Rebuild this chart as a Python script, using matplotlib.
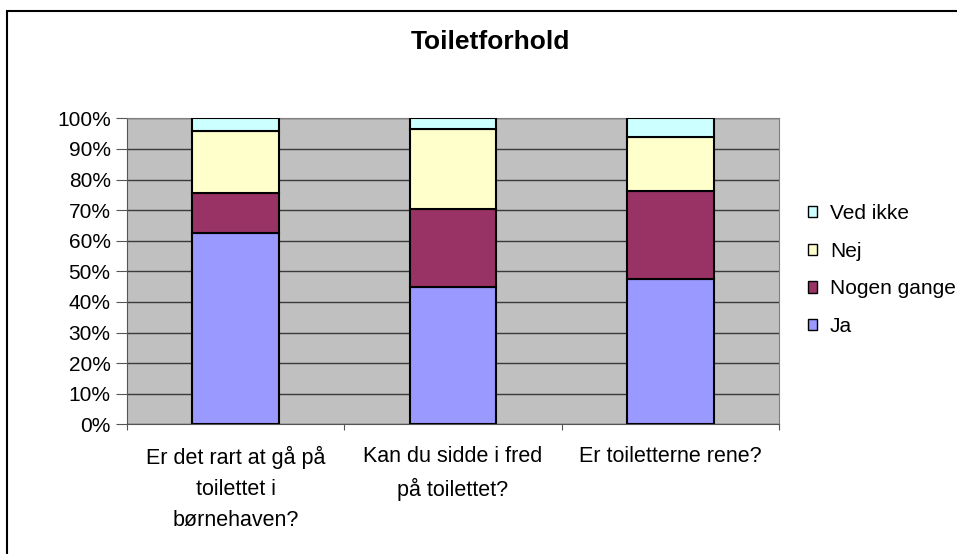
import numpy as np
import matplotlib.pyplot as plt
from matplotlib.patches import Rectangle, Patch

plt.rcParams['font.family'] = ['Liberation Sans', 'DejaVu Sans']

# data (percent)
categories = ['Er det rart at gå på\ntoilettet i\nbørnehaven?',
              'Kan du sidde i fred\npå toilettet?',
              'Er toiletterne rene?']
series_names = ['Ja', 'Nogen gange', 'Nej', 'Ved ikke']
ja = [62.4, 44.8, 47.4]
nogen_gange = [13.2, 25.6, 28.8]
nej = [20.2, 26.0, 17.7]
ved_ikke = [4.2, 3.6, 6.1]
colors = ['#9999FF', '#993366', '#FFFFCC', '#CCFFFF']

fig = plt.figure(figsize=(9.57, 5.54), dpi=100)
# outer chart border (runs off right and bottom edges like the original)
fig.patches.append(Rectangle((7 / 957, -0.05), 1.0, 1 - 11 / 554 + 0.05,
                             transform=fig.transFigure, fill=False,
                             edgecolor='black', linewidth=1.5))

ax = fig.add_axes([127.3 / 957, 1 - 424.3 / 554, (778.7 - 127.3) / 957, (424.3 - 118.3) / 554])
ax.set_facecolor('#C0C0C0')

x = np.arange(len(categories))
bottom = np.zeros(len(categories))
for name, vals, col in zip(series_names, [ja, nogen_gange, nej, ved_ikke], colors):
    ax.bar(x, vals, width=0.4, bottom=bottom, color=col, edgecolor='black',
           linewidth=1.5, label=name, zorder=3)
    bottom += np.array(vals)

ax.set_xlim(-0.5, 2.5)
ax.set_ylim(0, 100)
ax.set_yticks(np.arange(0, 101, 10))
ax.set_yticklabels([f'{v}%' for v in range(0, 101, 10)], fontsize=15)
ax.yaxis.grid(True, color='#3a3a3a', linewidth=1, zorder=1)
ax.set_axisbelow(True)

# category labels centered, ticks at category boundaries
ax.set_xticks([-0.5, 0.5, 1.5, 2.5])
ax.set_xticklabels([])
ax.tick_params(axis='x', length=4.5, color='#555555')
ax.tick_params(axis='y', length=8, color='#555555', pad=4)
for i, lab in enumerate(categories):
    ax.text(i, -7.0, lab, ha='center', va='top', fontsize=15.5, linespacing=1.62,
            transform=ax.transData)

for s in ['top', 'right']:
    ax.spines[s].set_color('#808080')
for s in ['left', 'bottom']:
    ax.spines[s].set_color('#555555')

fig.text(490 / 957, 1 - 42 / 554, 'Toiletforhold', ha='center', va='center',
         fontsize=19, fontweight='bold')

handles = [Patch(facecolor=c, edgecolor='black', linewidth=1) for c in colors]
fig.legend(handles[::-1], series_names[::-1], loc='center left',
           bbox_to_anchor=(808 / 957, 1 - 270 / 554), frameon=False,
           fontsize=15, handlelength=0.45, handleheight=0.45, handletextpad=0.6,
           labelspacing=0.9, borderaxespad=0, borderpad=0)

fig.savefig('out.png', dpi=100)
